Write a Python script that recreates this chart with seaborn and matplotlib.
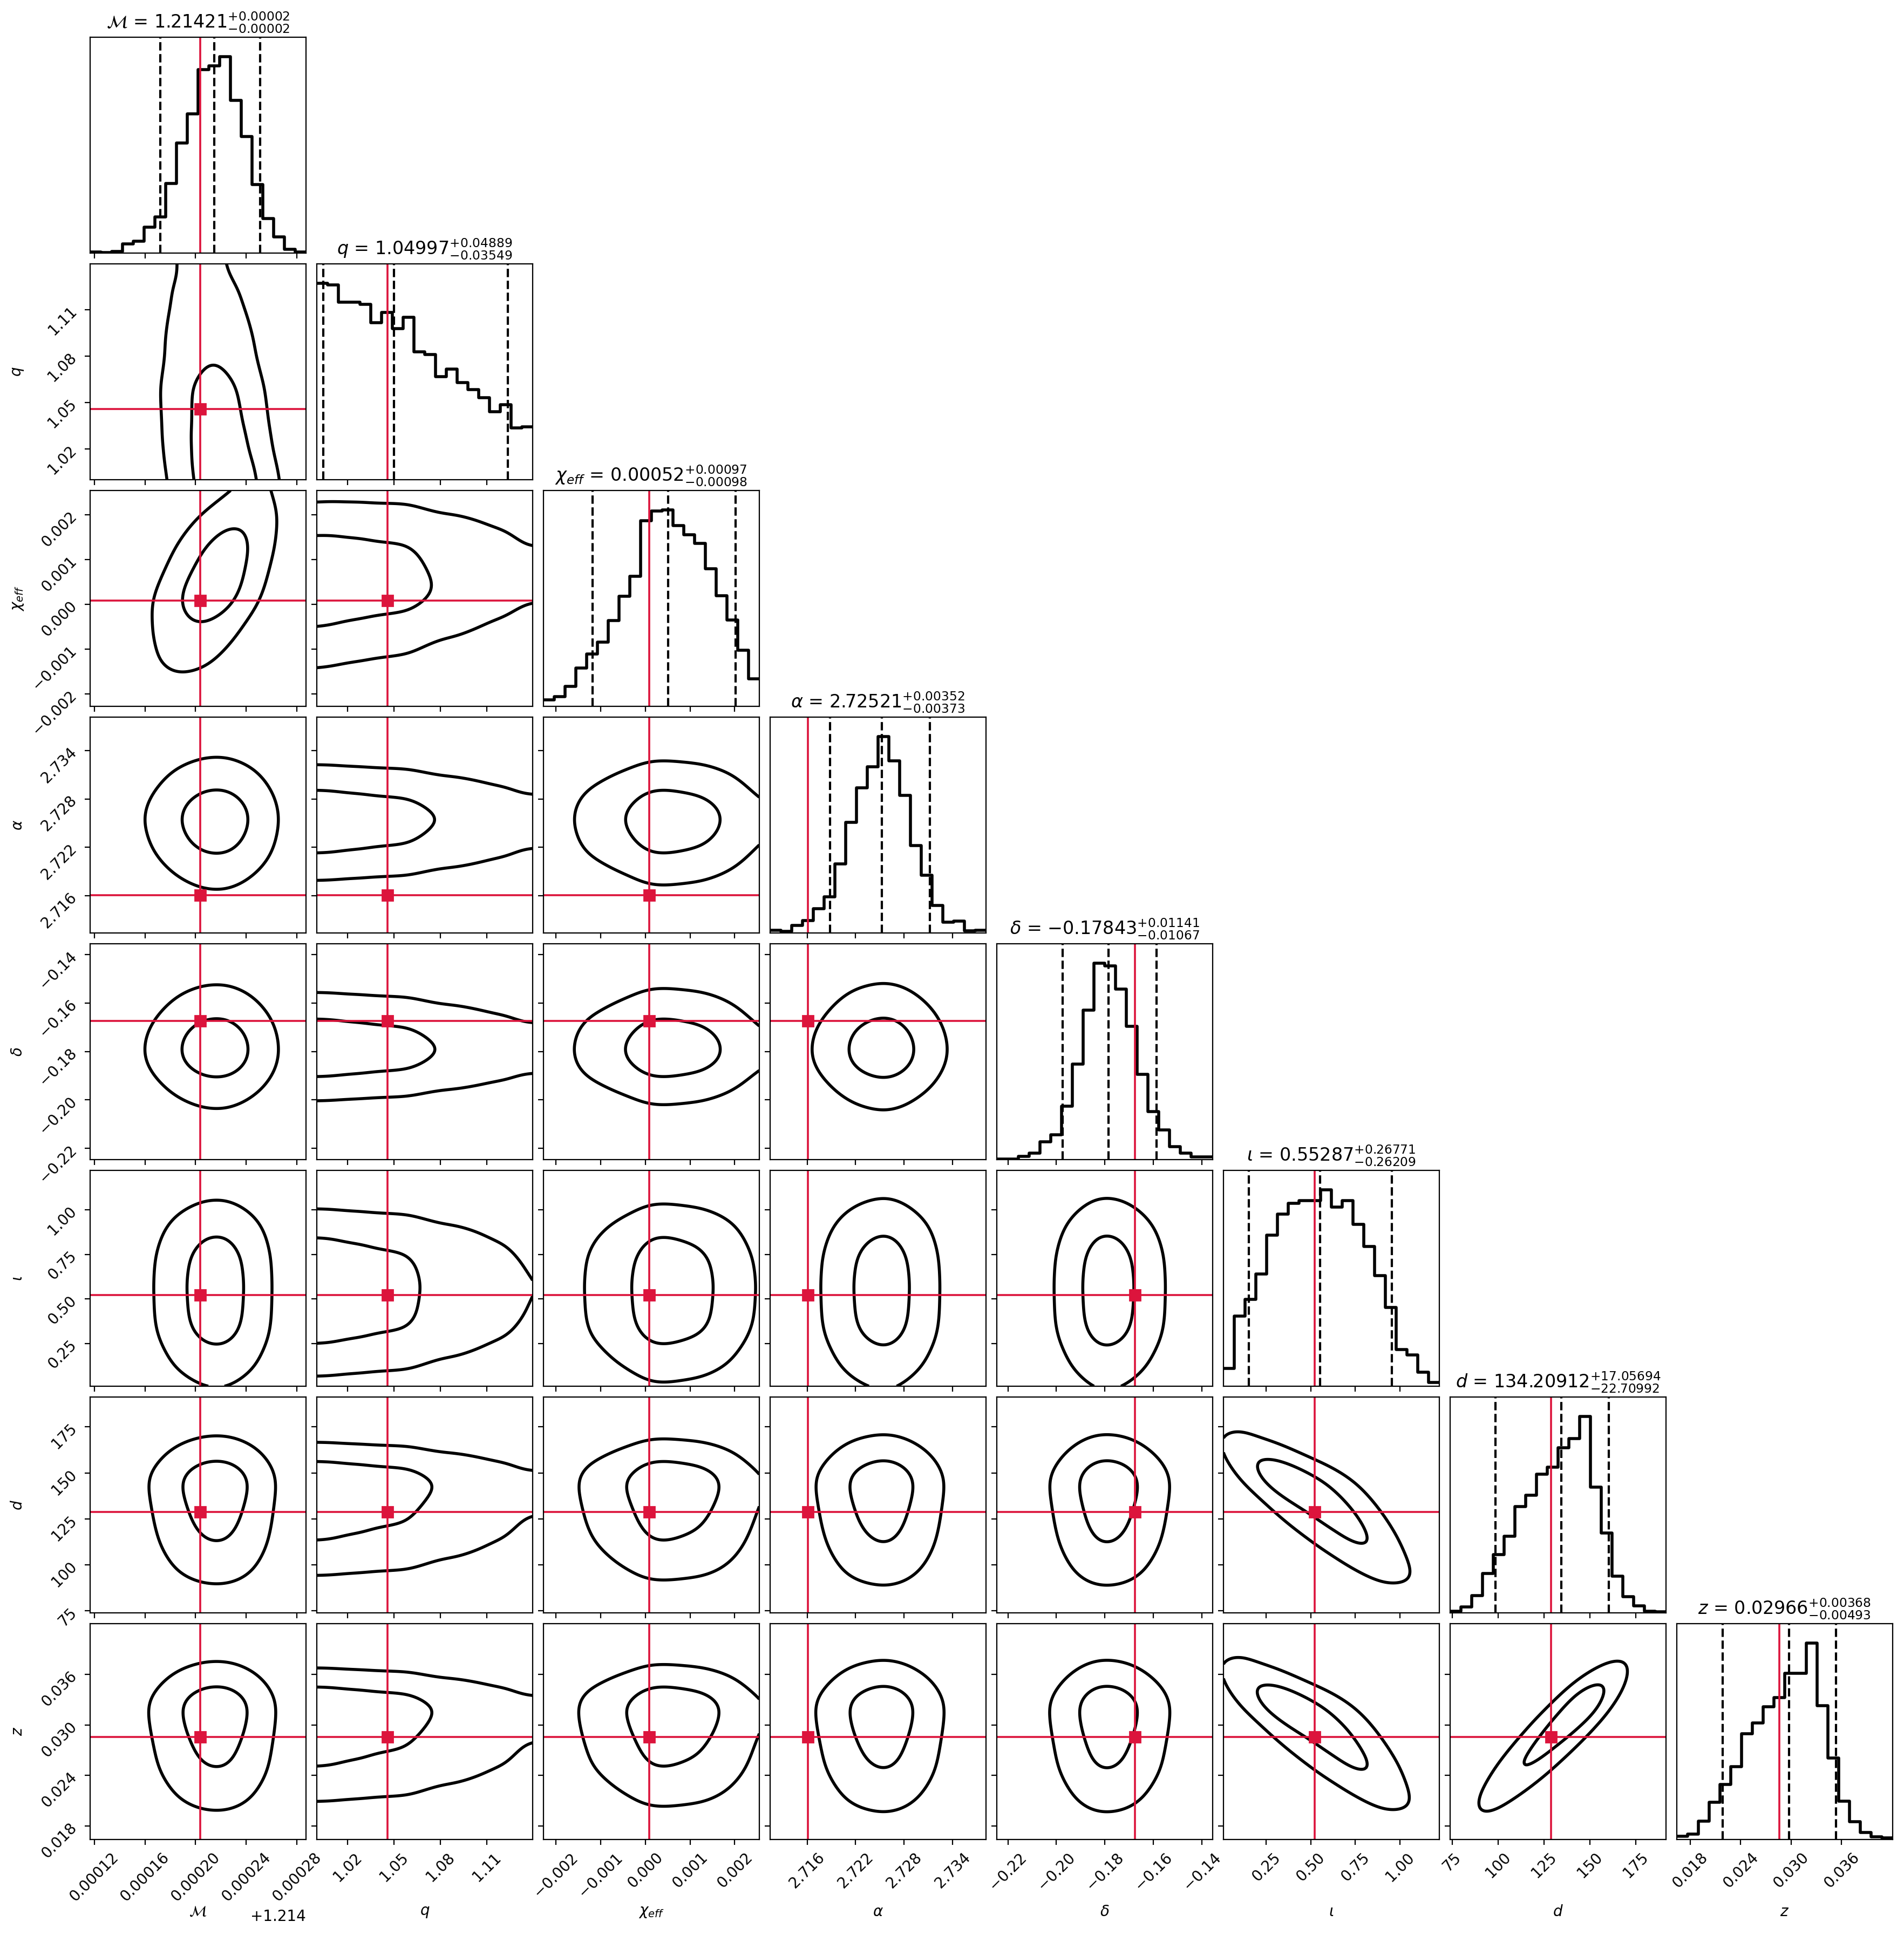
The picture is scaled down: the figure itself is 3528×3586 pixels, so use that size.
import math
import numpy as np
import pandas as pd
import matplotlib
matplotlib.use("Agg")
import matplotlib.pyplot as plt
from matplotlib.ticker import NullFormatter, NullLocator, ScalarFormatter
import seaborn as sns

# ---------------- data ----------------
labels = [r"$\mathcal{M}$", r"$q$", r"$\chi_{eff}$", r"$\alpha$",
          r"$\delta$", r"$\iota$", r"$d$", r"$z$"]

range_lo = [1.2141167, 1.0000, -0.002277, 2.71140, -0.22460, 0.011, 73.9, 0.01640]
range_hi = [1.2142871, 1.1397, 0.002548, 2.73814, -0.13556, 1.221, 191.3, 0.04207]

truths = [1.2142035, 1.0457, 0.00009, 2.7161, -0.1675, 0.521, 128.7, 0.02858]

q_low = [1.2141721, 1.00436, -0.001178, 2.71880, -0.1974, 0.152, 98.50, 0.02186]
q_mid = [1.2142146, 1.05000, 0.000513, 2.72524, -0.1785, 0.5516, 134.28, 0.02973]
q_high = [1.2142511, 1.12360, 0.002014, 2.73116, -0.1588, 0.955, 160.20, 0.03534]

title_med = [1.21421, 1.04997, 0.00052, 2.72521, -0.17843, 0.55287, 134.20912, 0.02966]
title_plus = [0.00002, 0.04889, 0.00097, 0.00352, 0.01141, 0.26771, 17.05694, 0.00368]
title_minus = [0.00002, 0.03549, 0.00098, 0.00373, 0.01067, 0.26209, 22.70992, 0.00493]

hist_M = [5, 3, 10, 50, 65, 142, 200, 387, 610, 772, 1015, 1038, 1087, 845, 645, 380, 190, 90, 22, 5]
hist_q = [1092, 1085, 987, 987, 977, 875, 930, 840, 905, 713, 697, 573, 615, 540, 500, 457, 377, 417, 287, 293]
hist_chi = [35, 53, 110, 213, 290, 358, 477, 612, 723, 1035, 1088, 1093, 1008, 957, 907, 765, 615, 480, 312, 152]
hist_alpha = [15, 10, 42, 70, 135, 200, 383, 615, 805, 923, 1090, 955, 765, 485, 320, 152, 60, 65, 12, 15]
hist_delta = [3, 3, 18, 37, 100, 138, 295, 530, 830, 1090, 1077, 948, 740, 473, 267, 165, 73, 37, 15, 15]
hist_iota = [100, 390, 483, 623, 840, 957, 1015, 1030, 1030, 1090, 995, 1032, 898, 775, 615, 437, 205, 173, 77, 22]
hist_d = [8, 32, 97, 220, 325, 427, 592, 655, 772, 809, 919, 970, 1092, 700, 445, 205, 90, 40, 8, 5]
hist_z = [14, 24, 84, 169, 251, 334, 483, 533, 609, 649, 761, 761, 899, 613, 374, 176, 81, 31, 11, 6]
hists = [hist_M, hist_q, hist_chi, hist_alpha, hist_delta, hist_iota, hist_d, hist_z]

ticks_M = [1.21412, 1.21416, 1.21420, 1.21424, 1.21428]
ticks_q = [1.02, 1.05, 1.08, 1.11]
ticks_chi = [-0.002, -0.001, 0.0, 0.001, 0.002]
ticks_alpha = [2.716, 2.722, 2.728, 2.734]
ticks_delta = [-0.22, -0.20, -0.18, -0.16, -0.14]
ticks_iota = [0.25, 0.50, 0.75, 1.00]
ticks_d = [75, 100, 125, 150, 175]
ticks_z = [0.018, 0.024, 0.030, 0.036]
ticks = [ticks_M, ticks_q, ticks_chi, ticks_alpha, ticks_delta, ticks_iota, ticks_d, ticks_z]

# pairwise correlation (lower triangle, row i vs columns 0..i-1)
corr_rows = [
    [],
    [-0.20],
    [0.55, 0.05],
    [0.0, 0.0, 0.0],
    [0.0, 0.0, 0.0, 0.0],
    [0.0, 0.0, 0.0, 0.0, 0.0],
    [0.0, 0.0, 0.0, 0.0, 0.0, -0.85],
    [0.0, 0.0, 0.0, 0.0, 0.0, -0.85, 0.97],
]
contour_mass = [1 - math.exp(-0.5), 1 - math.exp(-2.0)]

TRUTH_COLOR = "#DC143C"
K = len(labels)
NB = 20
NG = 160

# ---------------- helpers ----------------
_zs = np.linspace(-6.5, 6.5, 4001)
_phi = 0.5 * (1.0 + np.vectorize(math.erf)(_zs / math.sqrt(2.0)))


def phi_inv(p):
    return np.interp(np.clip(p, 1e-9, 1 - 1e-9), _phi, _zs)


def marginal(k):
    lo, hi = range_lo[k], range_hi[k]
    edges = np.linspace(lo, hi, NB + 1)
    centers = 0.5 * (edges[1:] + edges[:-1])
    g = np.linspace(lo, hi, NG)
    h = np.asarray(hists[k], float)
    pdf = np.interp(g, centers, h)
    pdf = np.clip(pdf, 1e-3 * h.max(), None)
    c = np.cumsum(pdf)
    cdf = (c - 0.5 * pdf) / c[-1]
    return g, pdf, cdf


def smoother(g, width):
    M = np.exp(-0.5 * ((g[:, None] - g[None, :]) / width) ** 2)
    return M / M.sum(axis=1, keepdims=True)


margs = [marginal(k) for k in range(K)]
smooths = [smoother(margs[k][0], (range_hi[k] - range_lo[k]) / NB) for k in range(K)]


def density(i, j):
    gx, fx, Fx = margs[j]
    gy, fy, Fy = margs[i]
    rho = corr_rows[i][j]
    a = phi_inv(Fx)[None, :]
    b = phi_inv(Fy)[:, None]
    cop = np.exp(-(rho ** 2 * (a ** 2 + b ** 2) - 2 * rho * a * b) / (2 * (1 - rho ** 2))) / math.sqrt(1 - rho ** 2)
    H = cop * fy[:, None] * fx[None, :]
    H = smooths[i] @ H @ smooths[j].T
    flat = np.sort(H.ravel())[::-1]
    cum = np.cumsum(flat)
    cum /= cum[-1]
    lev = sorted(flat[np.searchsorted(cum, m)] for m in contour_mass)
    return gx, gy, H, lev


# ---------------- figure ----------------
fig = plt.figure(figsize=(17.64, 17.93), dpi=200, facecolor="white")
axes = fig.subplots(K, K)
fig.subplots_adjust(left=0.0473, right=0.99405, bottom=0.0494, top=0.98076,
                    wspace=0.05, hspace=0.05)

for i in range(K):
    for j in range(K):
        ax = axes[i, j]
        if j > i:
            ax.set_axis_off()
            continue
        if i == j:
            edges = np.linspace(range_lo[i], range_hi[i], NB + 1)
            centers = 0.5 * (edges[1:] + edges[:-1])
            df = pd.DataFrame({"x": centers, "w": np.asarray(hists[i], float)})
            sns.histplot(data=df, x="x", weights="w", bins=NB,
                         binrange=(range_lo[i], range_hi[i]), element="step",
                         fill=False, color="k", linewidth=2.0, ax=ax)
            ax.set_ylim(0, 1.1 * max(hists[i]))
            ax.set_xlim(range_lo[i], range_hi[i])
            for qv in (q_low[i], q_mid[i], q_high[i]):
                ax.axvline(qv, ls="dashed", color="k", lw=1.5)
            ax.axvline(truths[i], color=TRUTH_COLOR, lw=1.3)
            ax.set_ylabel("")
            ax.set_xlabel("")
            ax.yaxis.set_major_locator(NullLocator())
            title = "{0} = ${1:.5f}_{{-{2:.5f}}}^{{+{3:.5f}}}$".format(
                labels[i], title_med[i], title_minus[i], title_plus[i])
            ax.set_title(title, fontsize=12)
        else:
            gx, gy, H, lev = density(i, j)
            ax.contour(gx, gy, H, levels=lev, colors="k", linewidths=2.0)
            ax.axvline(truths[j], color=TRUTH_COLOR, lw=1.3)
            ax.axhline(truths[i], color=TRUTH_COLOR, lw=1.3)
            ax.plot(truths[j], truths[i], "s", color=TRUTH_COLOR, ms=7)
            ax.set_yticks(ticks[i])
            ax.set_ylim(range_lo[i], range_hi[i])
            if j == 0:
                ax.yaxis.set_major_formatter(ScalarFormatter())
                ax.tick_params(axis="y", labelrotation=45, labelsize=10)
                ax.set_ylabel(labels[i], fontsize=10)
                ax.yaxis.set_label_coords(-0.3, 0.5)
            else:
                ax.yaxis.set_major_formatter(NullFormatter())
                ax.set_ylabel("")

        ax.set_xticks(ticks[j])
        ax.set_xlim(range_lo[j], range_hi[j])
        if i == K - 1:
            ax.xaxis.set_major_formatter(ScalarFormatter())
            ax.tick_params(axis="x", labelrotation=45, labelsize=10)
            ax.set_xlabel(labels[j], fontsize=10)
            ax.xaxis.set_label_coords(0.5, -0.3)
        else:
            ax.xaxis.set_major_formatter(NullFormatter())
            ax.set_xlabel("")

fig.savefig("out.png", dpi=200, facecolor="white")
